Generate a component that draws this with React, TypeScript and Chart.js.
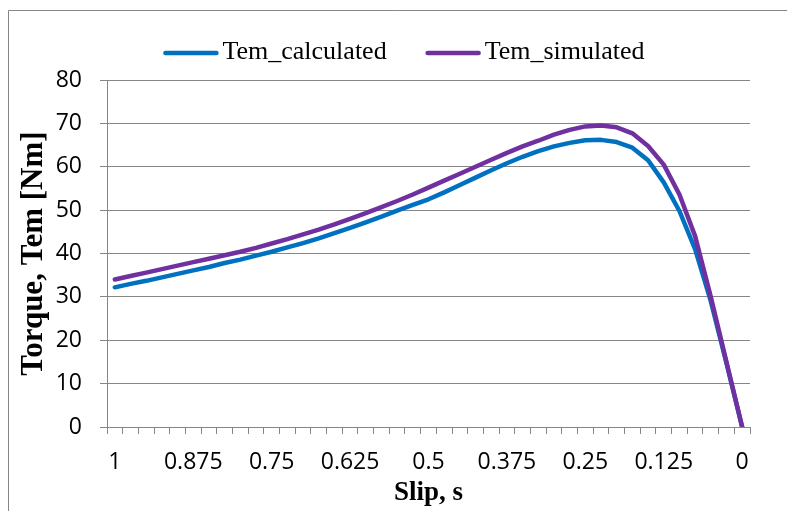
import React, { useEffect, useRef } from 'react';
import { Chart, registerables } from 'chart.js';

Chart.register(...registerables);

// Slip values (category axis, from 1 down to 0)
const slipLabels = [
  '1', '0.975', '0.95', '0.925', '0.9', '0.875', '0.85', '0.825', '0.8', '0.775',
  '0.75', '0.725', '0.7', '0.675', '0.65', '0.625', '0.6', '0.575', '0.55', '0.525',
  '0.5', '0.475', '0.45', '0.425', '0.4', '0.375', '0.35', '0.325', '0.3', '0.275',
  '0.25', '0.225', '0.2', '0.175', '0.15', '0.125', '0.1', '0.075', '0.05', '0.025',
  '0',
];

// Tick labels that are displayed on the x axis
const tickLabels = ['1', '0.875', '0.75', '0.625', '0.5', '0.375', '0.25', '0.125', '0'];

// Torque values [Nm]
const temCalculated = [
  32.2, 33.0, 33.7, 34.5, 35.3, 36.1, 36.9, 37.8, 38.6, 39.5,
  40.4, 41.4, 42.4, 43.5, 44.7, 45.9, 47.2, 48.5, 49.9, 51.2,
  52.5, 54.1, 55.8, 57.5, 59.2, 60.8, 62.3, 63.6, 64.7, 65.5,
  66.1, 66.2, 65.7, 64.4, 61.5, 56.4, 49.8, 41.0, 29.0, 14.7,
  0,
];

const temSimulated = [
  34.0, 34.8, 35.6, 36.4, 37.2, 38.0, 38.8, 39.6, 40.4, 41.3,
  42.3, 43.3, 44.4, 45.5, 46.7, 48.0, 49.3, 50.7, 52.1, 53.6,
  55.2, 56.8, 58.4, 60.0, 61.6, 63.2, 64.7, 66.0, 67.4, 68.5,
  69.3, 69.5, 69.1, 67.7, 64.8, 60.5, 53.6, 44.0, 30.0, 15.0,
  0,
];

const seriesNames = ['Tem_calculated', 'Tem_simulated'];
const seriesColors = ['#0070C0', '#7030A0'];

const GRAY = '#868686';
const SERIF = '"Liberation Serif", "Times New Roman", serif';
const SANS = '"Open Sans", "Liberation Sans", sans-serif';

const borderPlugin = {
  id: 'outerBorder',
  beforeDraw(chart: any) {
    const ctx = chart.ctx;
    ctx.save();
    ctx.fillStyle = '#ffffff';
    ctx.fillRect(0, 0, chart.width, chart.height);
    ctx.strokeStyle = GRAY;
    ctx.lineWidth = 1;
    ctx.beginPath();
    ctx.moveTo(8.5, chart.height);
    ctx.lineTo(8.5, 10.5);
    ctx.lineTo(chart.width, 10.5);
    ctx.stroke();
    ctx.restore();
  },
};

const legendPlugin = {
  id: 'lineLegend',
  afterDraw(chart: any) {
    const ctx = chart.ctx;
    ctx.save();
    ctx.font = `26px ${SERIF}`;
    ctx.textBaseline = 'middle';
    ctx.textAlign = 'left';
    const lineLen = 55;
    const gap = 4;
    const itemGap = 39;
    const datasets = chart.data.datasets;
    const widths = datasets.map((d: any) => ctx.measureText(d.label).width);
    const total =
      widths.reduce((a: number, w: number) => a + lineLen + gap + w, 0) + itemGap * (datasets.length - 1);
    let x = 404 - total / 2;
    const y = 53;
    datasets.forEach((d: any, i: number) => {
      ctx.strokeStyle = d.borderColor;
      ctx.lineWidth = 4.5;
      ctx.lineCap = 'round';
      ctx.beginPath();
      ctx.moveTo(x + 2, y);
      ctx.lineTo(x + lineLen - 2, y);
      ctx.stroke();
      ctx.fillStyle = '#000';
      ctx.fillText(d.label, x + lineLen + gap, y - 1);
      x += lineLen + gap + widths[i] + itemGap;
    });
    ctx.restore();
  },
};

export default function App() {
  const ref = useRef<HTMLCanvasElement>(null);

  useEffect(() => {
    const chart = new Chart(ref.current as HTMLCanvasElement, {
      type: 'line',
      data: {
        labels: slipLabels,
        datasets: [
          {
            label: seriesNames[0],
            data: temCalculated,
            borderColor: seriesColors[0],
            backgroundColor: seriesColors[0],
            borderWidth: 4.5,
            pointRadius: 0,
            tension: 0,
            borderCapStyle: 'round',
            borderJoinStyle: 'round',
            order: 1,
          },
          {
            label: seriesNames[1],
            data: temSimulated,
            borderColor: seriesColors[1],
            backgroundColor: seriesColors[1],
            borderWidth: 4.5,
            pointRadius: 0,
            tension: 0,
            borderCapStyle: 'round',
            borderJoinStyle: 'round',
            order: 0,
          },
        ],
      },
      options: {
        responsive: false,
        animation: false,
        layout: { padding: { left: 8, right: 37, top: 80, bottom: 0 } },
        plugins: {
          legend: { display: false },
          tooltip: { enabled: false },
        },
        scales: {
          x: {
            type: 'category',
            offset: true,
            grid: {
              offset: true,
              drawOnChartArea: false,
              drawTicks: true,
              tickLength: 7,
              color: GRAY,
            },
            border: { color: GRAY, width: 1 },
            ticks: {
              autoSkip: false,
              maxRotation: 0,
              minRotation: 0,
              padding: 15,
              color: '#000',
              font: { family: SANS, size: 23 },
              callback: (_v: any, i: number) =>
                tickLabels.includes(slipLabels[i]) ? slipLabels[i] : '',
            },
            title: {
              display: true,
              text: 'Slip, s',
              color: '#000',
              font: { family: SERIF, size: 27, weight: 'bold' },
              padding: { top: 0, bottom: 2 },
            },
            afterFit: (s: any) => {
              s.height = 84;
            },
          },
          y: {
            min: 0,
            max: 80,
            ticks: {
              stepSize: 10,
              padding: 18,
              color: '#000',
              font: { family: SANS, size: 23 },
            },
            grid: { color: GRAY, tickLength: 7, lineWidth: 1 },
            border: { color: GRAY, width: 1 },
            title: {
              display: true,
              text: 'Torque, Tem [Nm]',
              color: '#000',
              font: { family: SERIF, size: 31, weight: 'bold' },
              padding: { top: 7, bottom: 0 },
            },
            afterFit: (s: any) => {
              s.width = 99;
            },
          },
        },
      },
      plugins: [borderPlugin, legendPlugin],
    } as any);
    return () => chart.destroy();
  }, []);

  return (
    <canvas
      ref={ref}
      width={787}
      height={511}
      style={{ position: 'fixed', left: 0, top: 0, display: 'block' }}
    />
  );
}
